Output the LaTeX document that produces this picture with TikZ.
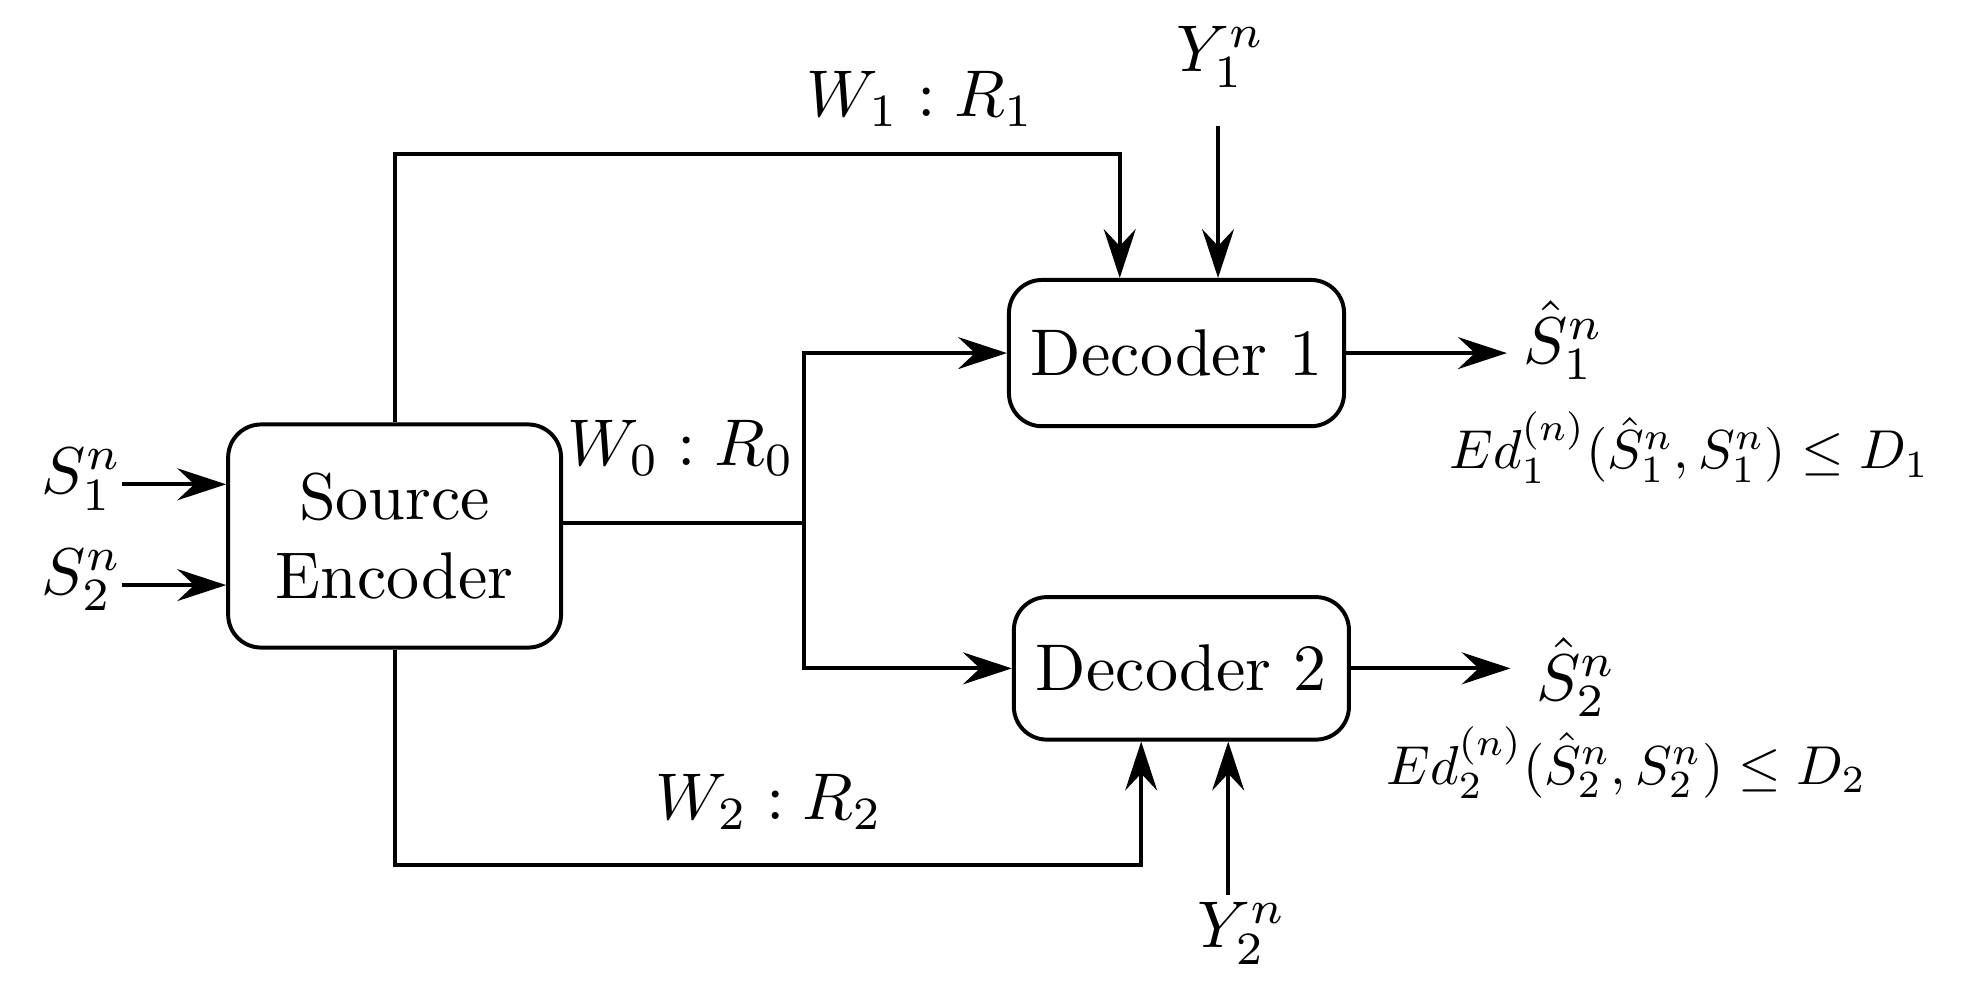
\documentclass[tikz,border=0pt]{standalone}
\usepackage{amsmath}
\usepackage{tikz}
\usetikzlibrary{positioning,arrows.meta,calc}

\begin{document}
\begin{tikzpicture}[
  block/.style={rectangle, rounded corners=5pt, draw, semithick, align=center},
  arr/.style={-{Stealth[length=2.6mm, width=1.7mm, inset=0.9mm]}, semithick},
  wire/.style={semithick},
  dist/.style={scale=0.83}
]
\useasboundingbox (0,0) rectangle (10.516,5.252);

% Boxes
\node[block, minimum width=1.771cm, minimum height=1.187cm] (enc) at (2.099,2.401) {Source\\Encoder};
\node[block, minimum width=1.764cm, minimum height=0.778cm] (dec1) at (6.258,3.374) {Decoder 1};
\node[block, minimum width=1.757cm, minimum height=0.758cm] (dec2) at (6.284,1.697) {Decoder 2};

% Labels
\node (s1) at (0.436,2.703) {$S_1^n$};
\node (s2) at (0.436,2.167) {$S_2^n$};
\node (w1) at (4.896,4.728) {$W_1:R_1$};
\node (w0) at (3.622,2.871) {$W_0:R_0$};
\node (w2) at (4.091,0.986) {$W_2:R_2$};
\node (y1) at (6.492,4.950) {$Y_1^n$};
\node (y2) at (6.606,0.288) {$Y_2^n$};
\node (s1hat) at (8.317,3.441) {$\hat{S}_1^n$};
\node (s2hat) at (8.384,1.650) {$\hat{S}_2^n$};
\node[dist] (dist1) at (8.987,2.871) {$Ed_1^{(n)}(\hat{S}_1^n,S_1^n)\leq D_1$};
\node[dist] (dist2) at (8.652,1.194) {$Ed_2^{(n)}(\hat{S}_2^n,S_2^n)\leq D_2$};

% Free ends and corners
\coordinate (s1in) at (0.651,2.676);
\coordinate (s2in) at (0.651,2.140);
\coordinate (topcorner) at (5.956,4.433);
\coordinate (botcorner) at (6.070,0.651);
\coordinate (y1in) at (6.479,4.581);
\coordinate (y2in) at (6.533,0.490);
\coordinate (junc) at (4.279,2.468);
\coordinate (s1out) at (8.015,3.374);
\coordinate (s2out) at (8.035,1.710);

% Inputs
\draw[arr] (s1in) -- (s1in -| enc.west);
\draw[arr] (s2in) -- (s2in -| enc.west);

% Private links
\draw[arr] (enc.north) |- (topcorner) -- (topcorner |- dec1.north);
\draw[arr] (enc.south) |- (botcorner) -- (botcorner |- dec2.south);

% Common link
\draw[wire] (junc -| enc.east) -- (junc);
\draw[arr] (junc) |- (dec1.west);
\draw[arr] (junc) |- (dec2.west);

% Side information
\draw[arr] (y1in) -- (y1in |- dec1.north);
\draw[arr] (y2in) -- (y2in |- dec2.south);

% Outputs
\draw[arr] (dec1.east) -- (dec1.east -| s1out);
\draw[arr] (dec2.east) -- (dec2.east -| s2out);

\end{tikzpicture}
\end{document}
